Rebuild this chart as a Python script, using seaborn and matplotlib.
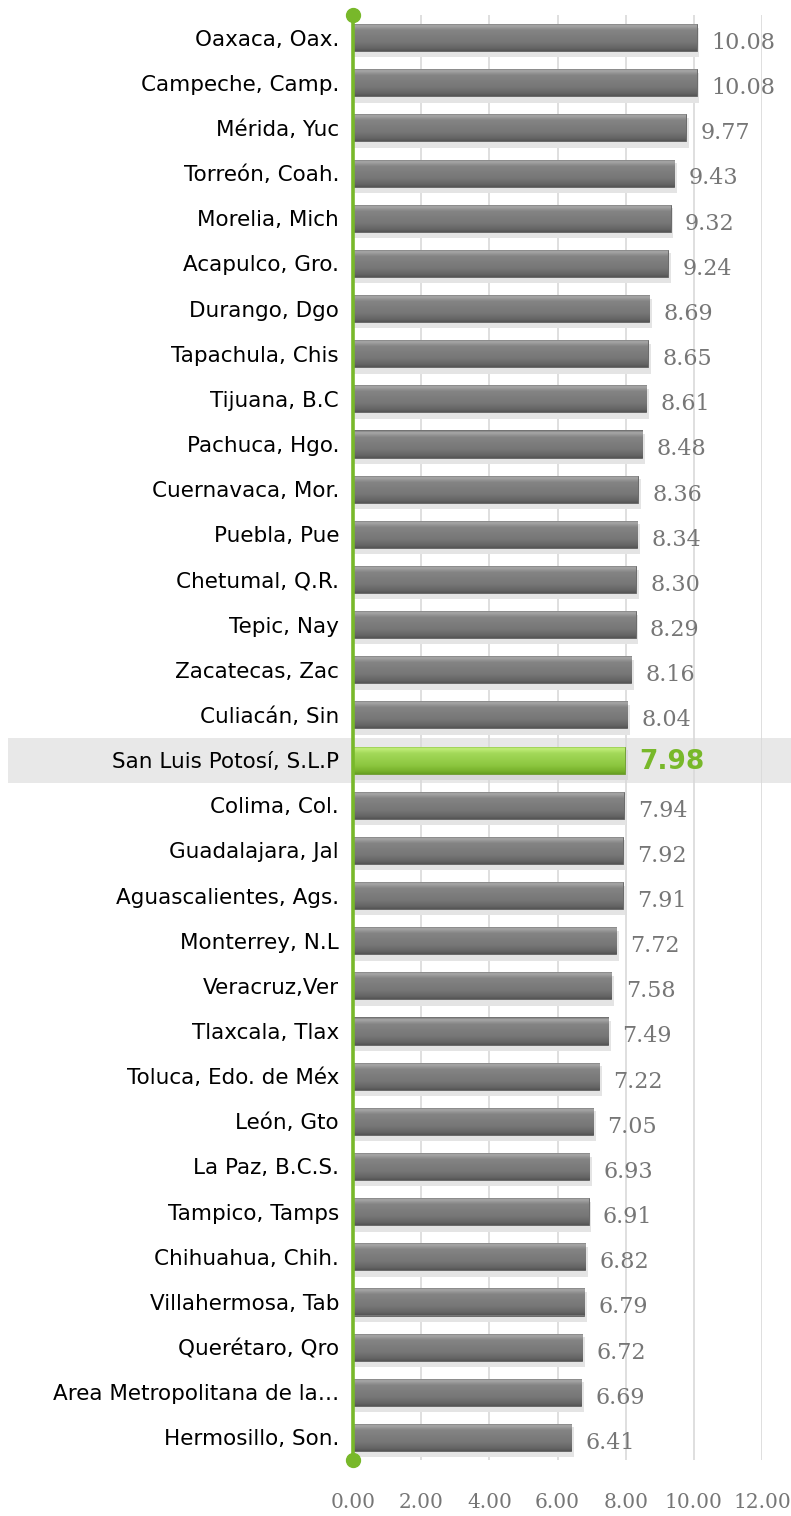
import numpy as np
import pandas as pd
import matplotlib
matplotlib.use("Agg")
import matplotlib.pyplot as plt
import matplotlib.transforms as mtransforms
from matplotlib.patches import Rectangle
from matplotlib.colors import LinearSegmentedColormap
import seaborn as sns

cities = [
    "Oaxaca, Oax.", "Campeche, Camp.", "Mérida, Yuc", "Torreón, Coah.",
    "Morelia, Mich", "Acapulco, Gro.", "Durango, Dgo", "Tapachula, Chis",
    "Tijuana, B.C", "Pachuca, Hgo.", "Cuernavaca, Mor.", "Puebla, Pue",
    "Chetumal, Q.R.", "Tepic, Nay", "Zacatecas, Zac", "Culiacán, Sin",
    "San Luis Potosí, S.L.P", "Colima, Col.", "Guadalajara, Jal",
    "Aguascalientes, Ags.", "Monterrey, N.L", "Veracruz,Ver", "Tlaxcala, Tlax",
    "Toluca, Edo. de Méx", "León, Gto", "La Paz, B.C.S.", "Tampico, Tamps",
    "Chihuahua, Chih.", "Villahermosa, Tab", "Querétaro, Qro",
    "Area Metropolitana de la…", "Hermosillo, Son.",
]
values = [
    10.08, 10.08, 9.77, 9.43, 9.32, 9.24, 8.69, 8.65, 8.61, 8.48, 8.36, 8.34,
    8.30, 8.29, 8.16, 8.04, 7.98, 7.94, 7.92, 7.91, 7.72, 7.58, 7.49, 7.22,
    7.05, 6.93, 6.91, 6.82, 6.79, 6.72, 6.69, 6.41,
]
highlight = "San Luis Potosí, S.L.P"
x_ticks = [0, 2, 4, 6, 8, 10, 12]

GREEN = "#78b82a"
GRAY_TXT = "#767676"

df = pd.DataFrame({"city": cities, "value": values})
df["group"] = np.where(df["city"] == highlight, "hl", "other")

sns.set_theme(style="white")
plt.rcParams["font.family"] = ["DejaVu Sans"]

fig = plt.figure(figsize=(7.91, 15.16), dpi=100)
ax = fig.add_axes([353 / 791, 1 - 1460 / 1516, (762 - 353) / 791, (1460 - 15) / 1516])
ax.set_facecolor("none")

sns.barplot(data=df, x="value", y="city", hue="group",
            palette={"hl": "#8cc63f", "other": "#777777"},
            dodge=False, legend=False, width=0.6, ax=ax, zorder=3)

n = len(cities)
grad = np.linspace(0, 1, 64).reshape(-1, 1)
cmap_gray = LinearSegmentedColormap.from_list(
    "k", [(0, "#6a6a6a"), (0.08, "#a8a8a8"), (0.25, "#848484"),
          (0.7, "#767676"), (0.9, "#656565"), (1, "#555555")])
cmap_green = LinearSegmentedColormap.from_list(
    "g", [(0, "#7ab532"), (0.08, "#c2ee7a"), (0.25, "#a3d95a"),
          (0.7, "#8cc63f"), (0.9, "#78b22c"), (1, "#669e22")])

for bar in list(ax.patches):
    w, h = bar.get_width(), bar.get_height()
    if not np.isfinite(w) or w == 0:
        continue
    x0, y0 = bar.get_x(), bar.get_y()
    idx = int(round(y0 + h / 2))
    hl = cities[idx] == highlight
    bar.set_edgecolor("#6a9a2a" if hl else "#606060")
    bar.set_linewidth(0.6)
    ax.add_patch(Rectangle((x0 + 0.03, y0 + 0.08), w + 0.05, h + 0.06,
                           facecolor="#d8d8d8" if hl else "#e4e4e4",
                           edgecolor="none", zorder=2))
    im = ax.imshow(grad, cmap=cmap_green if hl else cmap_gray, aspect="auto",
                   extent=(x0, x0 + w, y0 + h, y0), zorder=3.5,
                   interpolation="bilinear")
    im.set_clip_path(bar)

    lbl = f"{w:.2f}"
    if hl:
        ax.text(w + 0.42, y0 + h / 2 + 0.05, lbl, va="center", ha="left",
                color=GREEN, fontsize=19, fontweight="bold",
                family=["Liberation Sans Narrow", "DejaVu Sans"], zorder=5)
    else:
        ax.text(w + 0.42, y0 + h / 2 + 0.12, lbl, va="center", ha="left",
                color=GRAY_TXT, fontsize=16, family="DejaVu Serif", zorder=5)

ax.set_xlim(0, 12)
ax.set_ylim(n - 0.5, -0.5)

# highlight band spanning the figure width, drawn behind the axes
trans = mtransforms.blended_transform_factory(fig.transFigure, ax.transData)
hl_idx = cities.index(highlight)
fig.patches.append(Rectangle((8 / 791, hl_idx - 0.5), 1 - 8 / 791, 1.0,
                             transform=trans, facecolor="#e8e8e8",
                             edgecolor="none", zorder=-1))

# grid and green baseline
for t in x_ticks[1:]:
    ax.axvline(t, color="#d9d9d9", lw=1.2, zorder=1)
ax.plot([0, 0], [-0.5, n - 0.5], color=GREEN, lw=2.6, zorder=6, clip_on=False)
ax.plot([0, 0], [-0.5, n - 0.5], "o", color=GREEN, ms=10, zorder=7, clip_on=False)

for s in ax.spines.values():
    s.set_visible(False)

ax.set_xticks(x_ticks)
ax.set_xticklabels([f"{t:.2f}" for t in x_ticks], family="DejaVu Serif",
                   fontsize=14.5, color=GRAY_TXT)
ax.tick_params(axis="x", length=0, pad=24)
ax.tick_params(axis="y", length=0, pad=10, labelsize=15.5, labelcolor="#000000")
ax.set_xlabel("")
ax.set_ylabel("")

fig.savefig("out.png", dpi=100)
